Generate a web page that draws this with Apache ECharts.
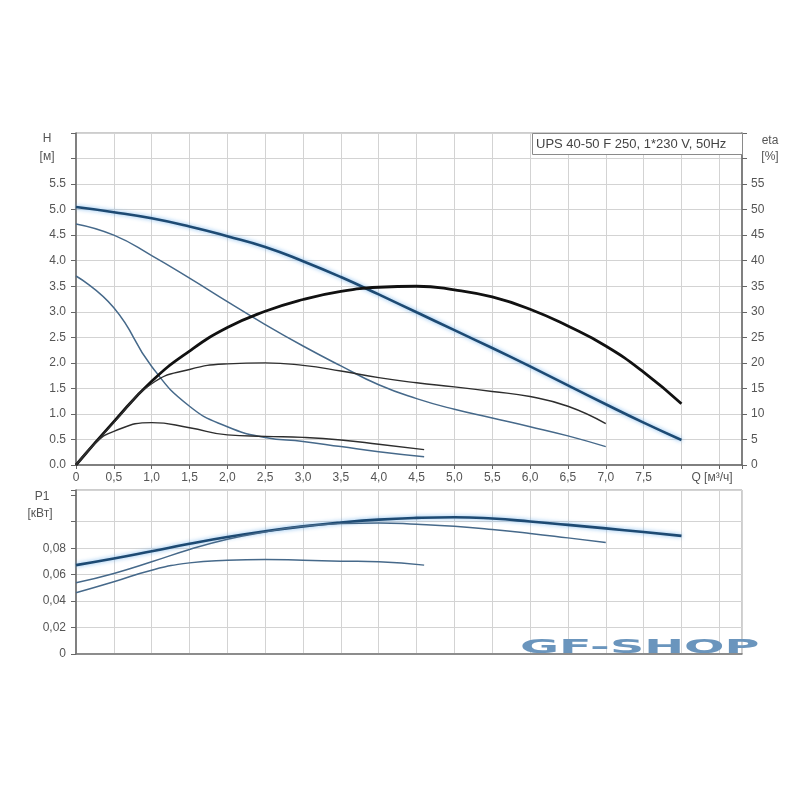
<!DOCTYPE html>
<html>
<head>
<meta charset="utf-8">
<script src="https://cdn.jsdelivr.net/npm/echarts@6/dist/echarts.min.js"></script>
<style>html,body{margin:0;padding:0;background:#fff}#c{width:800px;height:800px}</style>
</head>
<body>
<div id="c"></div>
<script>
// Q values (m3/h)
var qMax = [0,0.5,1,1.5,2,2.5,3,3.5,4,4.5,5,5.5,6,6.5,7,7.5,8];
var qMid = [0,0.5,1,1.5,2,2.5,3,3.5,4,4.5,5,5.5,6,6.5,7];
var qLow = [0,0.5,1,1.5,2,2.5,3,3.5,4,4.6];
var qLowEta = [0,0.25,0.5,1,1.5,2,2.5,3,3.5,4,4.6];

// Head H [m]
var hMax = [5.05,4.95,4.83,4.67,4.48,4.27,3.99,3.68,3.34,2.99,2.64,2.29,1.93,1.56,1.19,0.83,0.49];
var hMid = [4.72,4.5,4.1,3.66,3.2,2.75,2.33,1.94,1.57,1.3,1.09,0.92,0.75,0.57,0.36];
var hLow = [3.7,3.08,1.93,1.15,0.75,0.54,0.46,0.36,0.26,0.16];

// Efficiency eta [%]
var etaMax = [0,8.5,16.4,22.3,26.9,30.1,32.4,34.0,34.8,35.0,34.3,32.9,30.5,27.2,23.3,18.2,12.0];
var etaMid = [0,8.3,15.9,18.7,19.8,20.0,19.5,18.4,17.1,16.1,15.3,14.4,13.4,11.5,8.1];
var etaLow = [0,4.2,6.6,8.3,7.3,5.9,5.6,5.4,4.9,4.07,3.0];

// Power P1 [kW]
var pMax = [0.0672,0.0722,0.0777,0.0833,0.0884,0.0928,0.0965,0.0994,0.1016,0.1029,0.1034,0.1024,0.1002,0.0976,0.095,0.0922,0.0893];
var pMid = [0.0538,0.0609,0.0697,0.079,0.0868,0.0923,0.0966,0.0986,0.0991,0.0981,0.0966,0.0942,0.0912,0.0878,0.0843];
var pLow = [0.0463,0.0546,0.0634,0.0689,0.0709,0.0715,0.0709,0.0702,0.0697,0.0672];

var titleText = 'UPS 40-50 F 250, 1*230 V, 50Hz';

function pairs(xs, ys){ return xs.map(function(x,i){ return [x, ys[i]]; }); }

var FONT = 'Liberation Sans';
var labelColor = '#555';
var thickBlue = {color:'#1d4a73', width:2.6, shadowColor:'rgba(110,175,235,0.9)', shadowBlur:4};
var thinBlue = {color:'#46698a', width:1.5};
var thinBlack = {color:'#2e2e2e', width:1.4};
var thickBlack = {color:'#111111', width:2.8};

function line(name, x, y, xi, yi, style){
  return {name:name, type:'line', xAxisIndex:xi, yAxisIndex:yi, data:pairs(x,y),
    smooth:0.5, showSymbol:false, symbol:'none', lineStyle:style, z:3, animation:false};
}

function xFmt(v){ if (v >= 8) return ''; if (v === 0) return '0'; return v.toFixed(1).replace('.', ','); }

var chart = echarts.init(document.getElementById('c'), null, {renderer:'canvas'});
var gridLine = {show:true, lineStyle:{color:'#d3d3d3', width:1}};
chart.setOption({
  animation:false,
  backgroundColor:'#fff',
  grid:[
    {left:76, top:133, width:666, height:332, show:true, borderColor:'#9a9a9a', borderWidth:1},
    {left:76, top:490, width:666, height:164, show:true, borderColor:'#9a9a9a', borderWidth:1}
  ],
  xAxis:[
    {type:'value', gridIndex:0, min:0, max:8.8, interval:0.5,
     axisLine:{show:true, onZero:false, lineStyle:{color:'#666', width:1.5}},
     axisTick:{show:true, length:4, lineStyle:{color:'#666'}},
     axisLabel:{formatter:xFmt, color:labelColor, fontFamily:FONT, fontSize:12, margin:7},
     splitLine:gridLine},
    {type:'value', gridIndex:1, min:0, max:8.8, interval:0.5,
     axisLine:{show:true, onZero:false, lineStyle:{color:'#777', width:1.5}},
     axisTick:{show:false}, axisLabel:{show:false},
     splitLine:gridLine}
  ],
  yAxis:[
    {type:'value', gridIndex:0, min:0, max:6.5, interval:0.5, position:'left',
     axisLine:{show:true, onZero:false, lineStyle:{color:'#666', width:1.5}},
     axisTick:{show:true, length:5, lineStyle:{color:'#666'}},
     axisLabel:{formatter:function(v){ return v > 5.5 ? '' : v.toFixed(1); }, color:labelColor, fontFamily:FONT, fontSize:12, margin:10},
     splitLine:gridLine},
    {type:'value', gridIndex:0, min:0, max:65, interval:5, position:'right',
     axisLine:{show:true, onZero:false, lineStyle:{color:'#666', width:1.5}},
     axisTick:{show:true, length:5, lineStyle:{color:'#666'}},
     axisLabel:{formatter:function(v){ return v > 55 ? '' : String(v); }, color:labelColor, fontFamily:FONT, fontSize:12, margin:9},
     splitLine:{show:false}},
    {type:'value', gridIndex:1, min:0, max:0.124, interval:0.02, position:'left',
     axisLine:{show:true, onZero:false, lineStyle:{color:'#666', width:1.5}},
     axisTick:{show:true, length:5, lineStyle:{color:'#666'}},
     axisLabel:{formatter:function(v){ if (v > 0.085) return ''; if (v === 0) return '0'; return v.toFixed(2).replace('.', ','); }, color:labelColor, fontFamily:FONT, fontSize:12, margin:10},
     splitLine:{show:true, lineStyle:{color:['#d3d3d3','#d3d3d3','#d3d3d3','#d3d3d3','#d3d3d3','#d3d3d3','rgba(0,0,0,0)','#d3d3d3'], width:1}}}
  ],
  series:[
    line('H max', qMax, hMax, 0, 0, thickBlue),
    line('H mid', qMid, hMid, 0, 0, thinBlue),
    line('H low', qLow, hLow, 0, 0, thinBlue),
    line('eta max', qMax, etaMax, 0, 1, thickBlack),
    line('eta mid', qMid, etaMid, 0, 1, thinBlack),
    line('eta low', qLowEta, etaLow, 0, 1, thinBlack),
    line('P1 max', qMax, pMax, 1, 2, thickBlue),
    line('P1 mid', qMid, pMid, 1, 2, thinBlue),
    line('P1 low', qLow, pLow, 1, 2, thinBlue)
  ],
  graphic:[
    {type:'rect', left:532, top:133, shape:{width:210, height:21}, style:{fill:'#fff', stroke:'#8a8a8a', lineWidth:1}, z:10},
    {type:'text', x:536, y:144, style:{text:titleText, font:'13px "Liberation Sans"', fill:'#444', verticalAlign:'middle'}, z:11},
    {type:'text', x:47, y:139, style:{text:'H', font:'12px "Liberation Sans"', fill:labelColor, align:'center', verticalAlign:'middle'}},
    {type:'text', x:47, y:157, style:{text:'[м]', font:'12px "Liberation Sans"', fill:labelColor, align:'center', verticalAlign:'middle'}},
    {type:'text', x:770, y:141, style:{text:'eta', font:'12px "Liberation Sans"', fill:labelColor, align:'center', verticalAlign:'middle'}},
    {type:'text', x:770, y:157, style:{text:'[%]', font:'12px "Liberation Sans"', fill:labelColor, align:'center', verticalAlign:'middle'}},
    {type:'text', x:712, y:478, style:{text:'Q [м³/ч]', font:'12px "Liberation Sans"', fill:labelColor, align:'center', verticalAlign:'middle'}},
    {type:'text', x:42, y:497, style:{text:'P1', font:'12px "Liberation Sans"', fill:labelColor, align:'center', verticalAlign:'middle'}},
    {type:'text', x:40, y:514, style:{text:'[кВт]', font:'12px "Liberation Sans"', fill:labelColor, align:'center', verticalAlign:'middle'}},
    {type:'text', x:520, y:638, scaleX:2.38, style:{text:'GF-SHOP', font:'bold 20px "DejaVu Sans"', fill:'#6a95bd'}, z:20}
  ]
});
</script>
</body>
</html>
